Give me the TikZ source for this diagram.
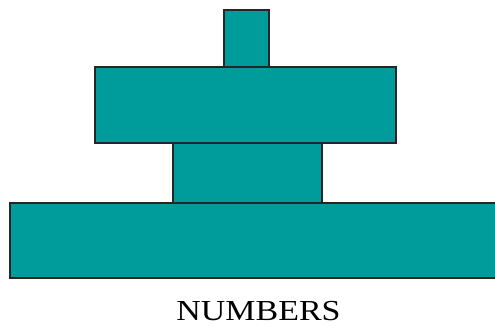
\documentclass[tikz,border=0pt]{standalone}
\usepackage{fontspec}
\setmainfont{Liberation Serif}
\definecolor{tealfill}{RGB}{0,155,155}
\begin{document}
\begin{tikzpicture}[x=1pt,y=1pt,
  disc/.style={draw=black!85,line width=1.3pt,fill=tealfill}]
\clip (0,0) rectangle (495,325);
\fill[white] (0,0) rectangle (495,325);
\draw[disc] (10,47) rectangle (505,122);
\draw[disc] (173,122) rectangle (322,182);
\draw[disc] (95,182) rectangle (396,258);
\draw[disc] (224,258) rectangle (269,315);
\node[anchor=base,inner sep=0pt,xscale=1.17] (label) at (258.5,5) {\fontsize{29}{29}\selectfont NUMBERS};
\end{tikzpicture}
\end{document}
